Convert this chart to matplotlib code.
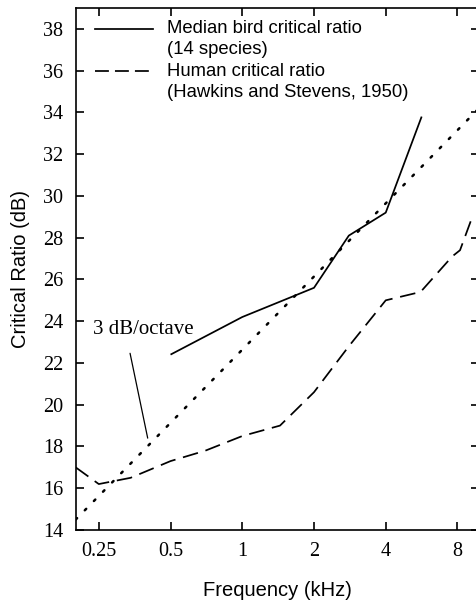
import numpy as np
import matplotlib
matplotlib.use("Agg")
import matplotlib.pyplot as plt

# --- data ---
bird_freq = [0.5, 1.0, 2.0, 2.8, 4.0, 5.66]
bird_cr = [22.4, 24.2, 25.6, 28.1, 29.2, 33.8]

human_freq = [0.2, 0.25, 0.34, 0.5, 0.7, 1.0, 1.44, 2.0, 2.8, 4.0, 5.6, 7.6, 8.2, 9.1]
human_cr = [17.0, 16.2, 16.5, 17.3, 17.8, 18.5, 19.0, 20.6, 22.8, 25.0, 25.4, 27.1, 27.4, 28.8]

slope_freq = [0.2, 9.85]
slope_cr = [14.5, 34.2]

xticks = [0.25, 0.5, 1, 2, 4, 8]
xtick_labels = ["0.25", "0.5", "1", "2", "4", "8"]
yticks = np.arange(14, 39, 2)

sans = "Liberation Sans"
serif = "Liberation Serif"

fig = plt.figure(figsize=(4.76, 6.02), dpi=100)
ax = fig.add_axes([75.7/476, 1 - 530/602, (479 - 75.7)/476, (530 - 8)/602])

ax.plot(bird_freq, bird_cr, color="black", lw=1.25, solid_capstyle="butt")
ax.plot(human_freq, human_cr, color="black", lw=1.25, linestyle=(0, (9, 4.5)))
ax.plot(slope_freq, slope_cr, color="black", lw=1.8, linestyle=(0, (0.8, 4.4)),
        dash_capstyle="round")

# 3 dB/octave annotation
ax.annotate("3 dB/octave", xy=(0.401, 18.4), xytext=(0.236, 23.6),
            fontsize=15, family=serif, va="center", ha="left",
            arrowprops=dict(arrowstyle="-", color="black", lw=0.9,
                            shrinkA=0, shrinkB=0,
                            relpos=(0.37, -0.75)))

# hand-made legend (handles line up with first text line)
ax.plot([0.048, 0.192], [0.960, 0.960], color="black", lw=1.25, transform=ax.transAxes)
ax.plot([0.048, 0.186], [0.879, 0.879], color="black", lw=1.25,
        linestyle=(0, (8, 3.5)), transform=ax.transAxes)
leg_lines = ["Median bird critical ratio", "(14 species)",
             "Human critical ratio", "(Hawkins and Stevens, 1950)"]
for i, txt in enumerate(leg_lines):
    ax.text(0.226, 0.960 - i*0.0404, txt, transform=ax.transAxes,
            fontsize=13.3, family=sans, va="center", ha="left")

ax.set_xscale("log")
ax.set_xlim(0.2, 9.85)
ax.set_ylim(14, 39)
ax.set_xticks(xticks)
ax.set_xticklabels(xtick_labels)
ax.xaxis.set_minor_locator(matplotlib.ticker.NullLocator())
ax.set_yticks(yticks)

ax.tick_params(direction="in", top=True, right=True, length=6, width=1.2,
               labelsize=14.5, pad=9)
for lab in ax.get_xticklabels() + ax.get_yticklabels():
    lab.set_family(serif)
for sp in ax.spines.values():
    sp.set_linewidth(1.2)

ax.set_xlabel("Frequency (kHz)", fontsize=14.5, family=sans, labelpad=14)
ax.set_ylabel("Critical Ratio (dB)", fontsize=14.5, family=sans, labelpad=9)

plt.savefig("out.png", dpi=100)
